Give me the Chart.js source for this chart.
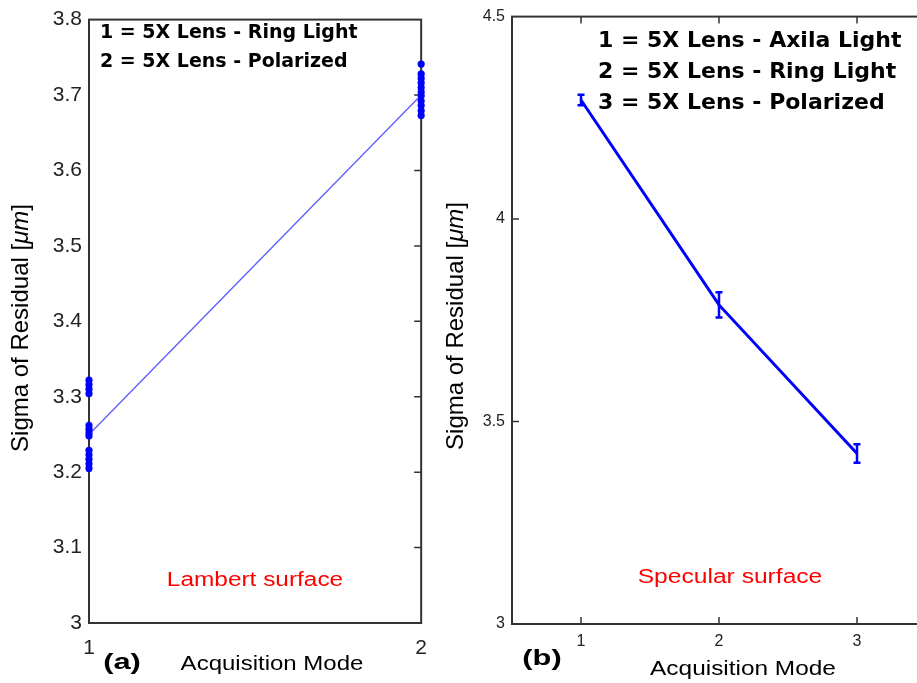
<!DOCTYPE html>
<html>
<head>
<meta charset="utf-8">
<script src="https://cdn.jsdelivr.net/npm/chart.js@4.4.1/dist/chart.umd.min.js"></script>
<style>
  html, body { margin: 0; padding: 0; background: #fff; overflow: hidden; width: 917px; height: 683px; }
  #wrapA { position: absolute; left: 0; top: 0; }
  #wrapB { position: absolute; left: 440px; top: 0; }
</style>
</head>
<body>
<div id="wrapA"><canvas id="chartA" width="440" height="683"></canvas></div>
<div id="wrapB"><canvas id="chartB" width="500" height="683"></canvas></div>
<script>
// ---- values ----

// (a) Lambert surface: every run per acquisition mode + the mean line
const modesA = [1, 2];
const runsMode1 = [3.322, 3.316, 3.310, 3.304, 3.262, 3.257, 3.252, 3.248, 3.229, 3.223, 3.217, 3.211, 3.205];
const runsMode2 = [3.741, 3.728, 3.722, 3.716, 3.710, 3.704, 3.699, 3.692, 3.686, 3.679, 3.673];
const meanA = [3.25, 3.70];
const yTicksA = [3, 3.1, 3.2, 3.3, 3.4, 3.5, 3.6, 3.7, 3.8];

// (b) Specular surface: mean with error bar
const modesB = [1, 2, 3];
const meanB = [4.294, 3.788, 3.421];
const errB = [0.013, 0.031, 0.023];
const yTicksB = [3, 3.5, 4, 4.5];

const legendA = ['1 = 5X Lens - Ring Light', '2 = 5X Lens - Polarized'];
const legendB = ['1 = 5X Lens - Axila Light', '2 = 5X Lens - Ring Light', '3 = 5X Lens - Polarized'];

const SANS = '"Liberation Sans", Arial, sans-serif';
const WIDE = '"DejaVu Sans", Verdana, sans-serif';

function drawText(ctx, t) {
    ctx.save();
    ctx.font = t.font;
    ctx.fillStyle = t.color || '#000';
    ctx.textAlign = t.align || 'left';
    ctx.textBaseline = 'middle';
    ctx.translate(t.x, t.y);
    ctx.scale(t.sx || 1, 1);
    ctx.fillText(t.text, 0, 0);
    ctx.restore();
}

// rotated y label, "µm" in italics like the original
function drawYLabel(ctx, cx, cy, size) {
    const parts = [
        ['Sigma of Residual [', size + 'px ' + SANS],
        ['\u03BCm', 'italic ' + size + 'px ' + SANS],
        [']', size + 'px ' + SANS]
    ];
    ctx.save();
    ctx.translate(cx, cy);
    ctx.rotate(-Math.PI / 2);
    ctx.fillStyle = '#000';
    ctx.textBaseline = 'middle';
    ctx.textAlign = 'left';
    let total = 0;
    parts.forEach(p => { ctx.font = p[1]; total += ctx.measureText(p[0]).width; });
    let x = -total / 2;
    parts.forEach(p => {
        ctx.font = p[1];
        ctx.fillText(p[0], x, 0);
        x += ctx.measureText(p[0]).width;
    });
    ctx.restore();
}

// box around the plot + small inward tick marks (matlab style)
const framePlugin = {
    id: 'frame',
    beforeDatasetsDraw(chart, args, opts) {
        const { ctx, chartArea: a, scales } = chart;
        const len = 7;
        ctx.save();
        ctx.strokeStyle = '#333';
        ctx.lineWidth = 2;
        ctx.strokeRect(a.left, a.top, a.right - a.left, a.bottom - a.top);
        ctx.lineWidth = 1.5;
        ctx.beginPath();
        scales.y.ticks.forEach(t => {
            if (t.value <= scales.y.min || t.value >= scales.y.max) return;
            const py = scales.y.getPixelForValue(t.value);
            if (opts.ySides.includes('left')) { ctx.moveTo(a.left, py); ctx.lineTo(a.left + len, py); }
            if (opts.ySides.includes('right')) { ctx.moveTo(a.right, py); ctx.lineTo(a.right - len, py); }
        });
        scales.x.ticks.forEach(t => {
            if (t.value <= scales.x.min || t.value >= scales.x.max) return;
            const px = scales.x.getPixelForValue(t.value);
            if (opts.xSides.includes('bottom')) { ctx.moveTo(px, a.bottom); ctx.lineTo(px, a.bottom - len); }
            if (opts.xSides.includes('top')) { ctx.moveTo(px, a.top); ctx.lineTo(px, a.top + len); }
        });
        ctx.stroke();
        ctx.restore();
    }
};

const errorBarPlugin = {
    id: 'errorBars',
    afterDatasetsDraw(chart, args, opts) {
        if (!opts.errors) return;
        const { ctx, scales: { x, y } } = chart;
        ctx.save();
        ctx.strokeStyle = '#0000ff';
        ctx.lineWidth = 2.5;
        opts.xs.forEach((xv, i) => {
            const px = x.getPixelForValue(xv);
            const top = y.getPixelForValue(opts.ys[i] + opts.errors[i]);
            const bot = y.getPixelForValue(opts.ys[i] - opts.errors[i]);
            ctx.beginPath();
            ctx.moveTo(px, top); ctx.lineTo(px, bot);
            ctx.moveTo(px - 3.5, top); ctx.lineTo(px + 3.5, top);
            ctx.moveTo(px - 3.5, bot); ctx.lineTo(px + 3.5, bot);
            ctx.stroke();
        });
        ctx.restore();
    }
};

const textPlugin = {
    id: 'texts',
    afterDraw(chart, args, opts) {
        const ctx = chart.ctx;
        opts.items.forEach(t => drawText(ctx, t));
        drawYLabel(ctx, opts.yLabel.x, opts.yLabel.y, opts.yLabel.size);
    }
};

function fmt(v) {
    return String(Math.round(v * 100) / 100);
}

//          ******** (a) LAMBERT *********
let ctxA = document.getElementById('chartA').getContext('2d');
let chartA = new Chart(ctxA, {
    type: 'scatter',
    data: {
        datasets: [
            {
                label: 'mode 1',
                data: runsMode1.map(v => ({ x: modesA[0], y: v })),
                backgroundColor: '#0000ff',
                borderWidth: 0,
                pointRadius: 3.6,
                clip: false,
                order: 0
            },
            {
                label: 'mode 2',
                data: runsMode2.map(v => ({ x: modesA[1], y: v })),
                backgroundColor: '#0000ff',
                borderWidth: 0,
                pointRadius: 3.6,
                clip: false,
                order: 0
            },
            {
                type: 'line',
                label: 'mean',
                data: modesA.map((m, i) => ({ x: m, y: meanA[i] })),
                borderColor: '#5c5cff',
                borderWidth: 1.3,
                pointRadius: 0,
                order: 1
            }
        ]
    },
    options: {
        responsive: false,
        animation: false,
        devicePixelRatio: 1,
        layout: { padding: { top: 15, right: 18, left: 0, bottom: 0 } },
        plugins: {
            legend: { display: false },
            tooltip: { enabled: false },
            frame: { ySides: ['right'], xSides: [] },
            texts: {
                items: [
                    { text: legendA[0], x: 100, y: 33, font: 'bold 19px ' + WIDE },
                    { text: legendA[1], x: 100, y: 62, font: 'bold 19px ' + WIDE },
                    { text: 'Lambert surface', x: 255, y: 580, font: '20px ' + SANS, color: '#ff0000', align: 'center', sx: 1.22 },
                    { text: '(a)', x: 122, y: 663, font: 'bold 22px ' + SANS, align: 'center', sx: 1.4 },
                    { text: 'Acquisition Mode', x: 272, y: 664, font: '20px ' + SANS, align: 'center', sx: 1.2 }
                ],
                yLabel: { x: 21, y: 328, size: 24 }
            }
        },
        scales: {
            x: {
                type: 'linear',
                min: 1,
                max: 2,
                grid: { display: false, drawTicks: false },
                border: { display: false },
                ticks: { color: '#222', font: { family: SANS, size: 21 }, padding: 13 },
                afterBuildTicks: s => { s.ticks = modesA.map(v => ({ value: v })); },
                afterFit: s => { s.height = 60; }
            },
            y: {
                min: 3,
                max: 3.8,
                grid: { display: false, drawTicks: false },
                border: { display: false },
                ticks: { color: '#222', font: { family: SANS, size: 21 }, padding: 7, callback: v => fmt(v) },
                afterBuildTicks: s => { s.ticks = yTicksA.map(v => ({ value: v })); },
                afterFit: s => { s.width = 89; }
            }
        }
    },
    plugins: [framePlugin, errorBarPlugin, textPlugin]
});

//          ******** (b) SPECULAR *********
let ctxB = document.getElementById('chartB').getContext('2d');
let chartB = new Chart(ctxB, {
    type: 'line',
    data: {
        datasets: [{
            label: 'mean',
            data: modesB.map((m, i) => ({ x: m, y: meanB[i] })),
            borderColor: '#0000ff',
            borderWidth: 3,
            pointRadius: 0
        }]
    },
    options: {
        responsive: false,
        animation: false,
        devicePixelRatio: 1,
        layout: { padding: { top: 16, right: 14, left: 0, bottom: 0 } },
        plugins: {
            legend: { display: false },
            tooltip: { enabled: false },
            frame: { ySides: ['left'], xSides: ['top', 'bottom'] },
            errorBars: { xs: modesB, ys: meanB, errors: errB },
            texts: {
                items: [
                    { text: legendB[0], x: 158, y: 41, font: 'bold 22px ' + WIDE },
                    { text: legendB[1], x: 158, y: 72, font: 'bold 22px ' + WIDE },
                    { text: legendB[2], x: 158, y: 103, font: 'bold 22px ' + WIDE },
                    { text: 'Specular surface', x: 290, y: 577, font: '20px ' + SANS, color: '#ff0000', align: 'center', sx: 1.23 },
                    { text: '(b)', x: 102, y: 659, font: 'bold 22px ' + SANS, align: 'center', sx: 1.4 },
                    { text: 'Acquisition Mode', x: 303, y: 669, font: '20px ' + SANS, align: 'center', sx: 1.22 }
                ],
                yLabel: { x: 16, y: 326, size: 24 }
            }
        },
        scales: {
            x: {
                type: 'linear',
                min: 0.5,
                max: 3.5,
                grid: { display: false, drawTicks: false },
                border: { display: false },
                ticks: { color: '#222', font: { family: SANS, size: 16 }, padding: 8 },
                afterBuildTicks: s => { s.ticks = modesB.map(v => ({ value: v })); },
                afterFit: s => { s.height = 59; }
            },
            y: {
                min: 3,
                max: 4.5,
                grid: { display: false, drawTicks: false },
                border: { display: false },
                ticks: { color: '#222', font: { family: SANS, size: 16 }, padding: 7, callback: v => fmt(v) },
                afterBuildTicks: s => { s.ticks = yTicksB.map(v => ({ value: v })); },
                afterFit: s => { s.width = 72; }
            }
        }
    },
    plugins: [framePlugin, errorBarPlugin, textPlugin]
});
</script>
</body>
</html>
